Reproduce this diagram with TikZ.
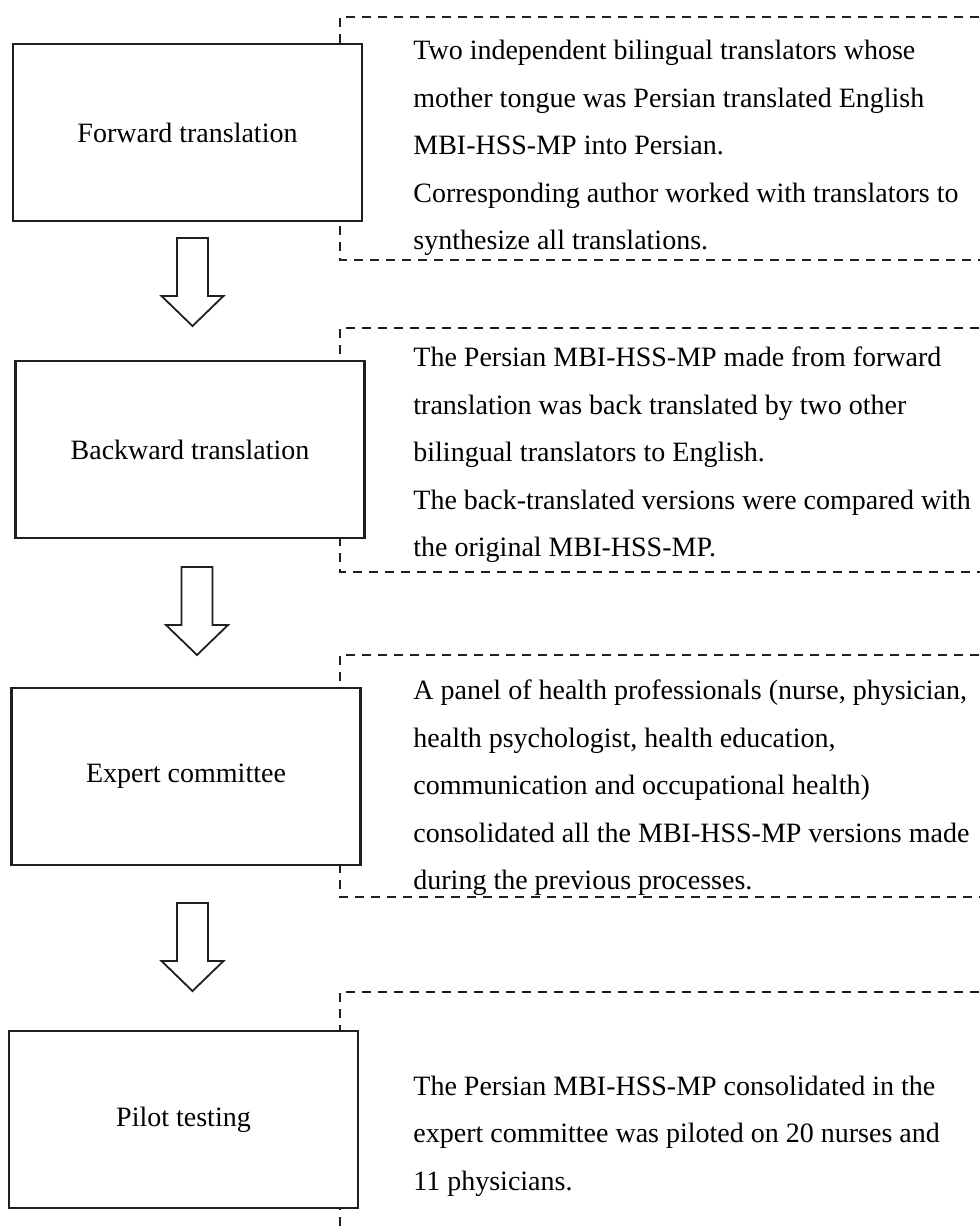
\documentclass[tikz,border=0pt]{standalone}
\usepackage{fontspec}
\setmainfont{Liberation Serif}
\colorlet{framecol}{black!88}
% hollow block arrow hanging from the given top point
\newcommand{\hollowdown}[1]{\draw[arrowline] (#1) ++(-15.5, 0) -- ++(0, 58) -- ++(-15.5, 0) -- ++(31, 30) -- ++(31, -30) -- ++(-15.5, 0) -- ++(0, -58) -- cycle;}

\begin{document}
\begin{tikzpicture}[x=0.5pt, y=-0.5pt,
		stagebox/.style={draw=framecol, line width=1.1pt, minimum width=174.5pt, minimum height=88.5pt, inner sep=0pt, font=\fontsize{14}{17}\selectfont},
		notetext/.style={anchor=west, align=left, inner sep=0pt, font=\fontsize{14}{23.75}\selectfont},
		notebox/.style={draw=framecol, line width=0.9pt, dash pattern=on 4.5pt off 3.5pt},
		arrowline/.style={draw=framecol, line width=0.9pt, line join=miter}]
		\useasboundingbox (0, 0) rectangle (979, 1230);
		\coordinate (fwdpos) at (187.5, 132.5);
		\coordinate (bwdpos) at (190, 449.5);
		\coordinate (exppos) at (186, 776.5);
		\coordinate (pilpos) at (183.5, 1119.5);
		% dashed frames, open on the right
		\draw[notebox] (995, 17) -| (340, 260) -- (995, 260);
		\draw[notebox] (995, 328) -| (340, 572) -- (995, 572);
		\draw[notebox] (995, 655) -| (340, 897) -- (995, 897);
		\draw[notebox] (995, 992) -| (340, 1240);
		% stages
		\node (fwd) at (fwdpos) [stagebox, fill=white] {Forward translation};
		\node (bwd) at (bwdpos) [stagebox, fill=white] {Backward translation};
		\node (exp) at (exppos) [stagebox, fill=white] {Expert committee};
		\node (pil) at (pilpos) [stagebox, fill=white] {Pilot testing};
		\coordinate (arr1) at (192.5, 238);
		\coordinate (arr2) at (197, 567);
		\coordinate (arr3) at (192.5, 903);
		\hollowdown{arr1}
		\hollowdown{arr2}
		\hollowdown{arr3}
		% notes
		\node (fwdnote) at (413, 148) [notetext] {Two independent bilingual translators whose\\mother tongue was Persian translated English\\MBI-HSS-MP into Persian.\\Corresponding author worked with translators to\\synthesize all translations.};
		\node (bwdnote) at (413, 455) [notetext] {The Persian MBI-HSS-MP made from forward\\translation was back translated by two other\\bilingual translators to English.\\The back-translated versions were compared with\\the original MBI-HSS-MP.};
		\node (expnote) at (413, 788) [notetext] {A panel of health professionals (nurse, physician,\\health psychologist, health education,\\communication and occupational health)\\consolidated all the MBI-HSS-MP versions made\\during the previous processes.};
		\node (pilnote) at (413, 1136) [notetext] {The Persian MBI-HSS-MP consolidated in the\\expert committee was piloted on 20 nurses and\\11 physicians.};
	\end{tikzpicture}
\end{document}
